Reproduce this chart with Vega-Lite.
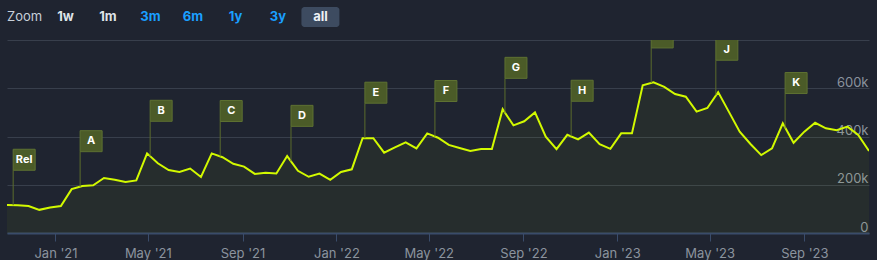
{
  "$schema": "https://vega.github.io/schema/vega-lite/v6.json",
  "background": "#1f2430",
  "padding": {"left": 6, "top": 7, "right": 9, "bottom": 0},
  "spacing": 13,
  "bounds": "flush",
  "config": {"view": {"stroke": null}, "font": "Inter"},
  "datasets": {
    "buttons": [
      {"label": "Zoom", "state": "label"},
      {"label": "1w", "state": "off"},
      {"label": "1m", "state": "off"},
      {"label": "3m", "state": "on"},
      {"label": "6m", "state": "on"},
      {"label": "1y", "state": "on"},
      {"label": "3y", "state": "on"},
      {"label": "all", "state": "selected"}
    ],
    "series": [
      {"date": "2020-10-30", "value": 116000},
      {"date": "2020-11-13", "value": 115000},
      {"date": "2020-11-27", "value": 112000},
      {"date": "2020-12-11", "value": 96000},
      {"date": "2020-12-25", "value": 106000},
      {"date": "2021-01-08", "value": 112000},
      {"date": "2021-01-22", "value": 182000},
      {"date": "2021-02-05", "value": 195000},
      {"date": "2021-02-19", "value": 198000},
      {"date": "2021-03-05", "value": 228000},
      {"date": "2021-03-19", "value": 221000},
      {"date": "2021-04-02", "value": 211000},
      {"date": "2021-04-16", "value": 218000},
      {"date": "2021-04-30", "value": 330000},
      {"date": "2021-05-14", "value": 289000},
      {"date": "2021-05-28", "value": 261000},
      {"date": "2021-06-11", "value": 253000},
      {"date": "2021-06-25", "value": 267000},
      {"date": "2021-07-09", "value": 232000},
      {"date": "2021-07-23", "value": 330000},
      {"date": "2021-08-06", "value": 314000},
      {"date": "2021-08-20", "value": 287000},
      {"date": "2021-09-03", "value": 275000},
      {"date": "2021-09-17", "value": 245000},
      {"date": "2021-10-01", "value": 250000},
      {"date": "2021-10-15", "value": 247000},
      {"date": "2021-10-29", "value": 319000},
      {"date": "2021-11-12", "value": 258000},
      {"date": "2021-11-26", "value": 233000},
      {"date": "2021-12-10", "value": 246000},
      {"date": "2021-12-24", "value": 220000},
      {"date": "2022-01-07", "value": 253000},
      {"date": "2022-01-21", "value": 264000},
      {"date": "2022-02-04", "value": 393000},
      {"date": "2022-02-18", "value": 393000},
      {"date": "2022-03-04", "value": 333000},
      {"date": "2022-03-18", "value": 355000},
      {"date": "2022-04-01", "value": 376000},
      {"date": "2022-04-15", "value": 351000},
      {"date": "2022-04-29", "value": 413000},
      {"date": "2022-05-13", "value": 395000},
      {"date": "2022-05-27", "value": 365000},
      {"date": "2022-06-10", "value": 352000},
      {"date": "2022-06-24", "value": 340000},
      {"date": "2022-07-08", "value": 348000},
      {"date": "2022-07-22", "value": 348000},
      {"date": "2022-08-05", "value": 513000},
      {"date": "2022-08-19", "value": 446000},
      {"date": "2022-09-02", "value": 463000},
      {"date": "2022-09-16", "value": 500000},
      {"date": "2022-09-30", "value": 399000},
      {"date": "2022-10-14", "value": 348000},
      {"date": "2022-10-28", "value": 407000},
      {"date": "2022-11-11", "value": 388000},
      {"date": "2022-11-25", "value": 416000},
      {"date": "2022-12-09", "value": 368000},
      {"date": "2022-12-23", "value": 349000},
      {"date": "2023-01-06", "value": 413000},
      {"date": "2023-01-20", "value": 413000},
      {"date": "2023-02-03", "value": 612000},
      {"date": "2023-02-17", "value": 625000},
      {"date": "2023-03-03", "value": 606000},
      {"date": "2023-03-17", "value": 576000},
      {"date": "2023-03-31", "value": 565000},
      {"date": "2023-04-14", "value": 503000},
      {"date": "2023-04-28", "value": 518000},
      {"date": "2023-05-12", "value": 584000},
      {"date": "2023-05-26", "value": 502000},
      {"date": "2023-06-09", "value": 420000},
      {"date": "2023-06-23", "value": 369000},
      {"date": "2023-07-07", "value": 323000},
      {"date": "2023-07-21", "value": 351000},
      {"date": "2023-08-04", "value": 455000},
      {"date": "2023-08-18", "value": 374000},
      {"date": "2023-09-01", "value": 420000},
      {"date": "2023-09-15", "value": 457000},
      {"date": "2023-09-29", "value": 434000},
      {"date": "2023-10-13", "value": 426000},
      {"date": "2023-10-27", "value": 441000},
      {"date": "2023-11-10", "value": 406000},
      {"date": "2023-11-24", "value": 340000}
    ],
    "flags": [
      {"date": "2020-11-07", "value": 115000, "flag": "Rel"},
      {"date": "2021-02-02", "value": 192000, "flag": "A"},
      {"date": "2021-05-04", "value": 318000, "flag": "B"},
      {"date": "2021-08-03", "value": 317000, "flag": "C"},
      {"date": "2021-11-03", "value": 297000, "flag": "D"},
      {"date": "2022-02-07", "value": 393000, "flag": "E"},
      {"date": "2022-05-09", "value": 400000, "flag": "F"},
      {"date": "2022-08-08", "value": 496000, "flag": "G"},
      {"date": "2022-11-02", "value": 401000, "flag": "H"},
      {"date": "2023-02-14", "value": 622000, "flag": "I"},
      {"date": "2023-05-09", "value": 571000, "flag": "J"},
      {"date": "2023-08-07", "value": 433000, "flag": "K"}
    ]
  },
  "vconcat": [
    {
      "width": 329.4,
      "height": 20,
      "data": {"name": "buttons"},
      "encoding": {
        "x": {
          "field": "label",
          "type": "nominal",
          "sort": null,
          "scale": {"type": "point", "padding": 0.376, "domain": ["Zoom", "1w", "1m", "3m", "6m", "1y", "3y", "all"]},
          "axis": null
        }
      },
      "layer": [
        {
          "transform": [{"filter": "datum.state === 'selected'"}],
          "mark": {"type": "bar", "width": 38, "cornerRadius": 3, "color": "#3d4b60"}
        },
        {
          "transform": [{"filter": "datum.state === 'label'"}],
          "mark": {"type": "text", "fontSize": 13, "color": "#c7d0da", "baseline": "middle", "align": "left", "xOffset": -16},
          "encoding": {"text": {"field": "label"}}
        },
        {
          "transform": [{"filter": "datum.state !== 'label'"}],
          "mark": {"type": "text", "fontSize": 13, "fontWeight": "bold", "baseline": "middle"},
          "encoding": {
            "text": {"field": "label"},
            "color": {
              "field": "state",
              "type": "nominal",
              "scale": {"domain": ["off", "on", "selected"], "range": ["#dfe3e8", "#1a9fff", "#eef1f5"]},
              "legend": null
            }
          }
        }
      ]
    },
    {
      "width": 862,
      "height": 193,
      "layer": [
        {
          "data": {"name": "series"},
          "mark": {"type": "area", "color": "#d2f900", "opacity": 0.045, "clip": true},
          "encoding": {
            "x": {
              "field": "date",
              "type": "temporal",
              "scale": {"domain": ["2020-10-30", "2023-11-24"]},
              "axis": {
                "format": "%b '%y",
                "tickCount": {"interval": "month", "step": 4},
                "grid": false,
                "domainColor": "#3a4c6a",
                "domainWidth": 2,
                "tickColor": "#3a4c6a",
                "tickSize": 8,
                "labelColor": "#8b939e",
                "labelFontSize": 13,
                "labelPadding": 6,
                "labelFlush": false,
                "title": null
              }
            },
            "y": {
              "field": "value",
              "type": "quantitative",
              "scale": {"domain": [0, 800000], "nice": false},
              "axis": {
                "orient": "right",
                "values": [0, 200000, 400000, 600000, 800000],
                "labelExpr": "datum.value >= 800000 ? '' : (datum.value == 0 ? '0' : format(datum.value / 1000, 'd') + 'k')",
                "grid": true,
                "gridColor": "#383f4c",
                "domain": false,
                "ticks": false,
                "labelAlign": "right",
                "labelPadding": -1,
                "labelBaseline": "alphabetic",
                "labelOffset": -2,
                "labelColor": "#8b939e",
                "labelFontSize": 13,
                "labelFlush": false,
                "title": null
              }
            }
          }
        },
        {
          "data": {"name": "series"},
          "mark": {"type": "line", "color": "#d2f900", "strokeWidth": 2, "clip": true},
          "encoding": {
            "x": {"field": "date", "type": "temporal"},
            "y": {"field": "value", "type": "quantitative"}
          }
        },
        {
          "data": {"name": "flags"},
          "mark": {"type": "rule", "color": "#5b6c2c", "strokeWidth": 1, "y2Offset": -35, "clip": true},
          "encoding": {
            "x": {"field": "date", "type": "temporal"},
            "y": {"field": "value", "type": "quantitative"},
            "y2": {"field": "value"}
          }
        },
        {
          "data": {"name": "flags"},
          "mark": {"type": "rect", "fill": "#4b5b28", "stroke": "#5e7132", "strokeWidth": 1, "clip": true, "x2Offset": 22, "yOffset": -56, "y2Offset": -35},
          "encoding": {
            "x": {"field": "date", "type": "temporal"},
            "x2": {"field": "date"},
            "y": {"field": "value", "type": "quantitative"},
            "y2": {"field": "value"}
          }
        },
        {
          "data": {"name": "flags"},
          "mark": {"type": "text", "color": "#ffffff", "fontWeight": "bold", "fontSize": 11, "clip": true, "xOffset": 11, "yOffset": -45.5, "baseline": "middle", "align": "center"},
          "encoding": {
            "x": {"field": "date", "type": "temporal"},
            "y": {"field": "value", "type": "quantitative"},
            "text": {"field": "flag"}
          }
        }
      ]
    }
  ]
}
